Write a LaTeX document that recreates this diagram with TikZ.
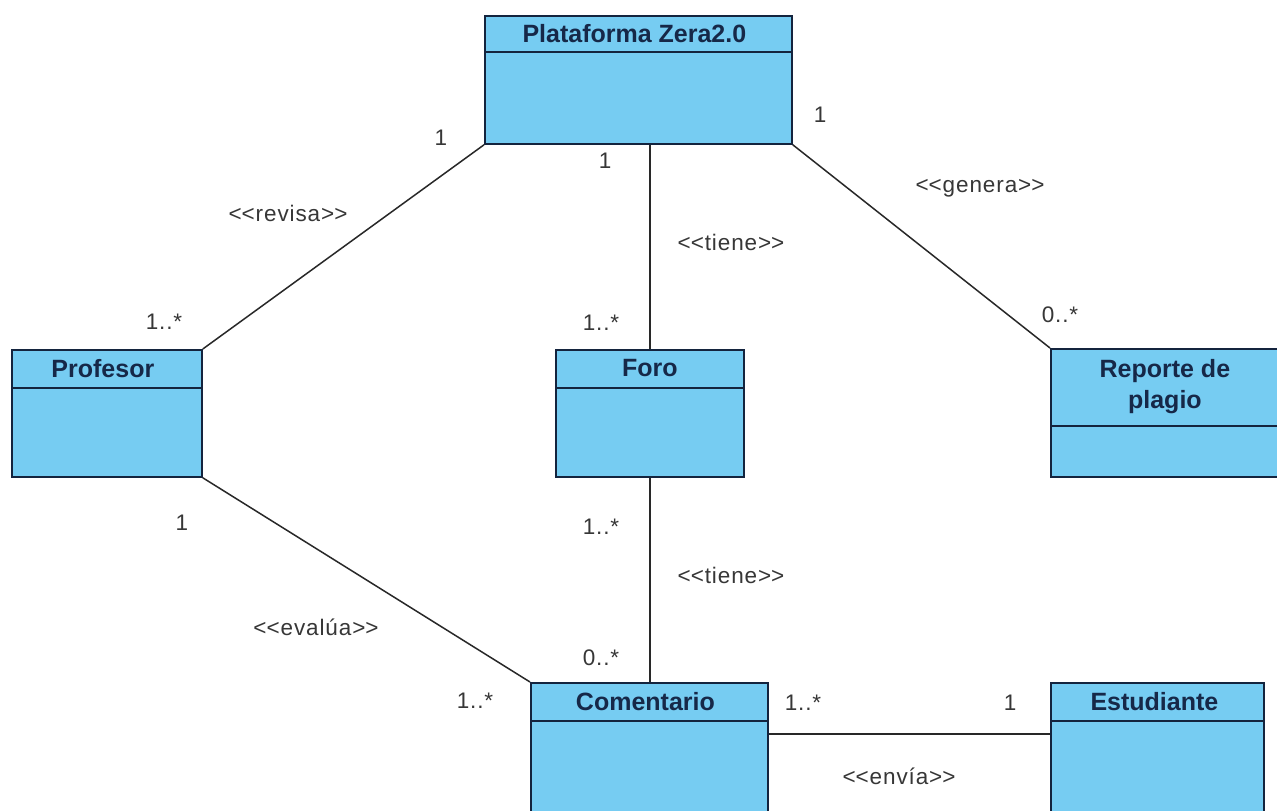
\documentclass[tikz,border=0pt]{standalone}
\usepackage{fontspec}
\setmainfont{Liberation Sans}[Ligatures=TeXOff]
\newfontfamily\lblfont{Liberation Sans}[Ligatures=TeXOff,LetterSpace=4]
\definecolor{clsfill}{RGB}{118,204,242}
\definecolor{border}{RGB}{20,36,62}
\definecolor{ttlcol}{RGB}{22,40,72}
\definecolor{lblcol}{RGB}{55,55,55}
\definecolor{linecol}{RGB}{40,40,40}
\newcommand\stl{<\kern0pt<}
\newcommand\stg{>\kern0pt>}
\tikzset{
  cls/.style={draw=border, fill=clsfill, line width=1.8pt, rectangle, inner sep=0pt, anchor=north west},
  divider/.style={draw=border, line width=1.8pt},
  ttl/.style={font=\bfseries\fontsize{25}{28}\selectfont, text=ttlcol, inner sep=0pt, align=center},
  lbl/.style={font=\lblfont\fontsize{22.5}{25}\selectfont, text=lblcol, inner sep=0pt},
  assoc/.style={draw=linecol, line width=1.5pt}
}
\begin{document}
\begin{tikzpicture}[x=1pt,y=-1pt]
\useasboundingbox[fill=white] (0,0) rectangle (1277,811);
% classes
\node[cls, minimum width=307pt, minimum height=128pt] (plat) at (484,15) {};
\draw[divider] ([yshift=-37pt]plat.north west) -- ([yshift=-37pt]plat.north east);
\node[ttl] (platT) at ([yshift=-18.5pt,xshift=-4pt]plat.north) {Plataforma Zera2.0};

\node[cls, minimum width=190pt, minimum height=127pt] (prof) at (11,349) {};
\draw[divider] ([yshift=-39pt]prof.north west) -- ([yshift=-39pt]prof.north east);
\node[ttl] (profT) at ([yshift=-19.5pt,xshift=-4pt]prof.north) {Profesor};

\node[cls, minimum width=188pt, minimum height=127pt] (foro) at (555,349) {};
\draw[divider] ([yshift=-39pt]foro.north west) -- ([yshift=-39pt]foro.north east);
\node[ttl] (foroT) at ([yshift=-19.5pt]foro.north) {Foro};

\node[cls, minimum width=228pt, minimum height=128pt] (rep) at (1050,348) {};
\draw[divider] ([yshift=-78pt]rep.north west) -- ([yshift=-78pt]rep.north east);
\node[ttl] (repT) at ([yshift=-39pt,xshift=0pt]rep.north) {Reporte de\\[3pt]plagio};

\node[cls, minimum width=237pt, minimum height=130pt] (com) at (530,682) {};
\draw[divider] ([yshift=-39pt]com.north west) -- ([yshift=-39pt]com.north east);
\node[ttl] (comT) at ([yshift=-19.5pt,xshift=-4pt]com.north) {Comentario};

\node[cls, minimum width=213pt, minimum height=130pt] (est) at (1050,682) {};
\draw[divider] ([yshift=-39pt]est.north west) -- ([yshift=-39pt]est.north east);
\node[ttl] (estT) at ([yshift=-19.5pt,xshift=-3pt]est.north) {Estudiante};

% connectors
\draw[assoc] (plat.south west) -- (prof.north east);
\draw[assoc] (plat.south -| foro.north) -- (foro.north);
\draw[assoc] (plat.south east) -- (rep.north west);
\draw[assoc] (prof.south east) -- (com.north west);
\draw[assoc] (foro.south) -- (com.north -| foro.south);
\coordinate (ce) at ([yshift=14pt]com.east);
\draw[assoc] (ce) -- (ce -| est.west);

% labels
\node[lbl] (l1) at (441,138) {1};
\node[lbl] (l2) at (288,213) {\stl revisa\stg};
\node[lbl] (l3) at (164,322) {1..*};
\node[lbl] (l4) at (605,161) {1};
\node[lbl] (l5) at (731,242) {\stl tiene\stg};
\node[lbl] (l6) at (601,323) {1..*};
\node[lbl] (l7) at (820,115) {1};
\node[lbl] (l8) at (980,188) {\stl genera\stg};
\node[lbl] (l9) at (1060,315) {0..*};
\node[lbl] (l10) at (182,523) {1};
\node[lbl] (l11) at (316,627) {\stl eval\'ua\stg};
\node[lbl] (l12) at (475,701) {1..*};
\node[lbl] (l13) at (601,527) {1..*};
\node[lbl] (l14) at (731,575) {\stl tiene\stg};
\node[lbl] (l15) at (601,658) {0..*};
\node[lbl] (l16) at (803,703) {1..*};
\node[lbl] (l17) at (1010,703) {1};
\node[lbl] (l18) at (899,776) {\stl env\'ia\stg};
\end{tikzpicture}
\end{document}
